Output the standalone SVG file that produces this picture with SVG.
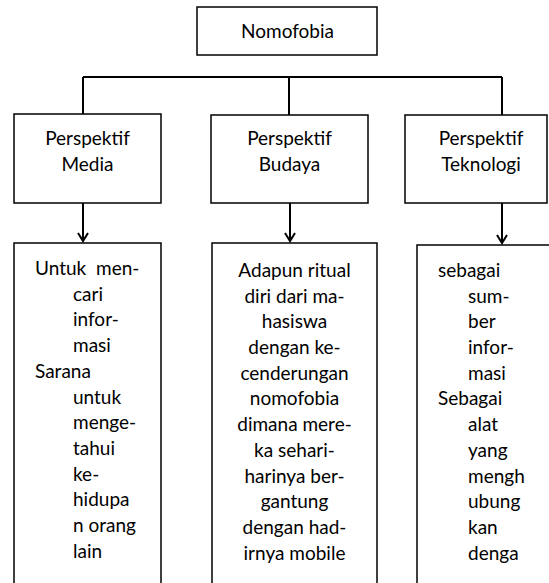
<svg xmlns="http://www.w3.org/2000/svg" width="549" height="583" viewBox="0 0 549 583">
<defs>
<style>
.box{fill:#fff;stroke:#000;stroke-width:1.5}
.ln{fill:none;stroke:#000;stroke-width:2}
.t{font-family:Lato,"Open Sans","Liberation Sans",sans-serif;font-size:19px;fill:#000}
.c{text-anchor:middle}
</style>
<marker id="ah" viewBox="0 0 12 12" refX="10" refY="6" markerWidth="12" markerHeight="12" markerUnits="userSpaceOnUse" orient="auto">
<path d="M2,1 L10,6 L2,11" fill="none" stroke="#000" stroke-width="2"/>
</marker>
</defs>
<g id="connectors">
<path class="ln" d="M83,77 H502"/>
<path class="ln" d="M83,77 V114"/>
<path class="ln" d="M289,77 V115"/>
<path class="ln" d="M502,77 V115"/>
<path class="ln" d="M83,203 V241" marker-end="url(#ah)"/>
<path class="ln" d="M290,203 V241" marker-end="url(#ah)"/>
<path class="ln" d="M502,203 V243" marker-end="url(#ah)"/>
</g>
<g id="nomofobia">
<rect class="box" x="197" y="7" width="180" height="48"/>
<text class="t c" x="287.5" y="38">Nomofobia</text>
</g>
<g id="media">
<rect class="box" x="14" y="114" width="147" height="89"/>
<text class="t c" x="87.5" y="145">Perspektif</text>
<text class="t c" x="87.5" y="171">Media</text>
</g>
<g id="budaya">
<rect class="box" x="211" y="115" width="157" height="88"/>
<text class="t c" x="289.5" y="145">Perspektif</text>
<text class="t c" x="289.5" y="171">Budaya</text>
</g>
<g id="teknologi">
<rect class="box" x="405" y="115" width="142" height="88"/>
<text class="t c" x="481" y="145">Perspektif</text>
<text class="t c" x="481" y="171">Teknologi</text>
</g>
<g id="media-detail">
<rect class="box" x="14" y="243" width="147" height="345"/>
<text class="t" x="35" y="275" word-spacing="5">Untuk men-</text>
<text class="t" x="73" y="301">cari</text>
<text class="t" x="73" y="326">infor-</text>
<text class="t" x="73" y="352">masi</text>
<text class="t" x="35" y="378">Sarana</text>
<text class="t" x="73" y="404">untuk</text>
<text class="t" x="73" y="429">menge-</text>
<text class="t" x="73" y="455">tahui</text>
<text class="t" x="73" y="481">ke-</text>
<text class="t" x="73" y="506">hidupa</text>
<text class="t" x="73" y="532">n orang</text>
<text class="t" x="73" y="558">lain</text>
</g>
<g id="budaya-detail">
<rect class="box" x="212" y="243" width="165" height="345"/>
<text class="t c" x="294.5" y="277">Adapun ritual</text>
<text class="t c" x="294.5" y="303">diri dari ma-</text>
<text class="t c" x="294.5" y="328">hasiswa</text>
<text class="t c" x="294.5" y="354">dengan ke-</text>
<text class="t c" x="294.5" y="380">cenderungan</text>
<text class="t c" x="294.5" y="405">nomofobia</text>
<text class="t c" x="294.5" y="431">dimana mere-</text>
<text class="t c" x="294.5" y="457">ka sehari-</text>
<text class="t c" x="294.5" y="483">harinya ber-</text>
<text class="t c" x="294.5" y="508">gantung</text>
<text class="t c" x="294.5" y="534">dengan had-</text>
<text class="t c" x="294.5" y="560">irnya mobile</text>
</g>
<g id="teknologi-detail">
<rect class="box" x="417" y="245" width="140" height="345"/>
<text class="t" x="438" y="277">sebagai</text>
<text class="t" x="468" y="303">sum-</text>
<text class="t" x="468" y="328">ber</text>
<text class="t" x="468" y="354">infor-</text>
<text class="t" x="468" y="380">masi</text>
<text class="t" x="438" y="405">Sebagai</text>
<text class="t" x="468" y="431">alat</text>
<text class="t" x="468" y="457">yang</text>
<text class="t" x="468" y="483">mengh</text>
<text class="t" x="468" y="508">ubung</text>
<text class="t" x="468" y="534">kan</text>
<text class="t" x="468" y="560">denga</text>
</g>
</svg>
